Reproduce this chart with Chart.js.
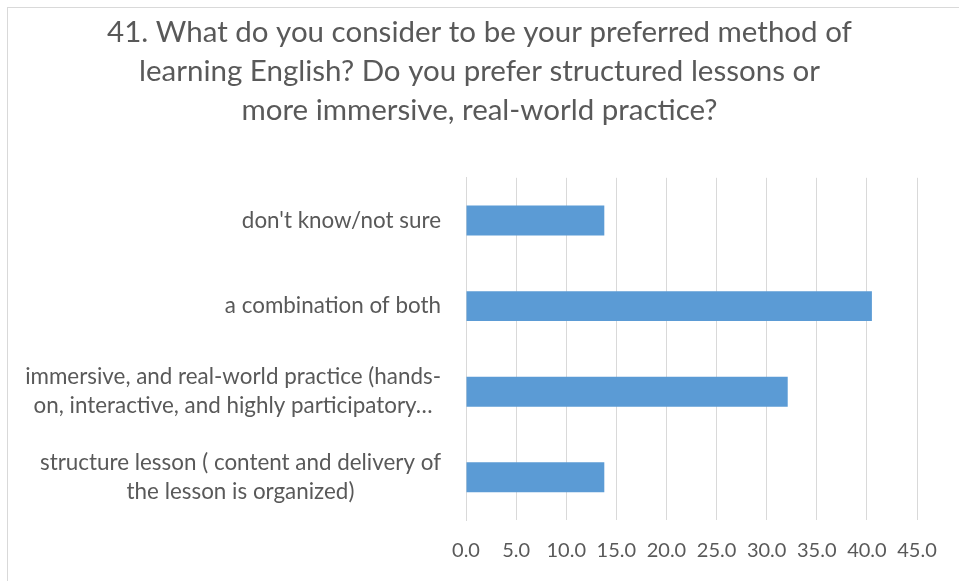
<!DOCTYPE html>
<html>
<head>
<meta charset="utf-8">
<script src="https://cdn.jsdelivr.net/npm/chart.js@4.4.1/dist/chart.umd.min.js"></script>
<style>
  html, body { margin: 0; padding: 0; background: #fff; overflow: hidden; }
  #frame { position: absolute; left: 7px; top: 7px; width: 980px; height: 600px; border: 1px solid #d9d9d9; box-sizing: border-box; }
  #wrap { position: absolute; left: 0; top: 0; width: 959px; height: 581px; }
</style>
</head>
<body>
<div id="frame"></div>
<div id="wrap"><canvas id="chart" width="959" height="581"></canvas></div>
<script>
const titleLines = [
  "41. What do you consider to be your preferred method of",
  "learning English? Do you prefer structured lessons or",
  "more immersive, real-world practice?"
];
const categories = [
  ["don't know/not sure"],
  ["a combination of both"],
  ["immersive, and real-world practice (hands-", "on, interactive, and highly participatory\u2026"],
  ["structure lesson ( content and delivery of", "the lesson is organized)"]
];
const percentages = [13.8, 40.5, 32.1, 13.8];
const axisMin = 0;
const axisMax = 45;
const axisStep = 5;

const FONT = "Lato, 'Open Sans', sans-serif";
const TEXT = "#595959";
const LABEL_SIZE = 22.4;
const LABEL_LINE = 29;
const LABEL_GAP = 25;

// Centre the title across the whole canvas rather than the padded layout box
const fullWidthTitle = {
  id: "fullWidthTitle",
  afterLayout(chart) {
    const t = chart.titleBlock;
    if (t) { t.left = 0; t.right = chart.width; t.width = chart.width; }
  }
};

// Category labels: each block sits flush right against the axis,
// while the lines inside a wrapped block are centred on one another
const blockLabels = {
  id: "blockLabels",
  afterDraw(chart) {
    const y = chart.scales.y;
    const ctx = chart.ctx;
    ctx.save();
    ctx.font = `${LABEL_SIZE}px ${FONT}`;
    ctx.fillStyle = TEXT;
    ctx.textAlign = "center";
    ctx.textBaseline = "middle";
    const right = y.right - LABEL_GAP;
    chart.data.labels.forEach((lines, i) => {
      const w = Math.max(...lines.map(l => ctx.measureText(l).width));
      const cx = right - w / 2;
      const cy = y.getPixelForTick(i);
      const top = cy - (lines.length - 1) * LABEL_LINE / 2;
      lines.forEach((l, k) => ctx.fillText(l, cx, top + k * LABEL_LINE));
    });
    ctx.restore();
  }
};

new Chart(document.getElementById("chart"), {
  type: "bar",
  data: {
    labels: categories,
    datasets: [{
      data: percentages,
      backgroundColor: "#5b9bd5",
      borderWidth: 0,
      categoryPercentage: 1,
      barPercentage: 0.35
    }]
  },
  plugins: [fullWidthTitle, blockLabels],
  options: {
    indexAxis: "y",
    responsive: false,
    animation: false,
    layout: { padding: { left: 0, right: 42, top: 0, bottom: 0 } },
    plugins: {
      legend: { display: false },
      tooltip: { enabled: false },
      title: {
        display: true,
        text: titleLines,
        color: TEXT,
        font: { family: FONT, size: 29.5, weight: "normal", lineHeight: 1.32 },
        padding: { top: 13, bottom: 48 }
      }
    },
    scales: {
      x: {
        min: axisMin,
        max: axisMax,
        grid: { color: "#d9d9d9", lineWidth: 1, drawTicks: false },
        border: { display: false },
        ticks: {
          stepSize: axisStep,
          color: TEXT,
          padding: 19,
          font: { family: FONT, size: 20 },
          callback: v => Number(v).toFixed(1)
        },
        afterFit: s => { s.height = 61; }
      },
      y: {
        grid: { display: false, drawTicks: false },
        border: { display: true, color: "#d9d9d9" },
        ticks: { display: false },
        afterFit: s => { s.width = 466; }
      }
    }
  }
});
</script>
</body>
</html>
